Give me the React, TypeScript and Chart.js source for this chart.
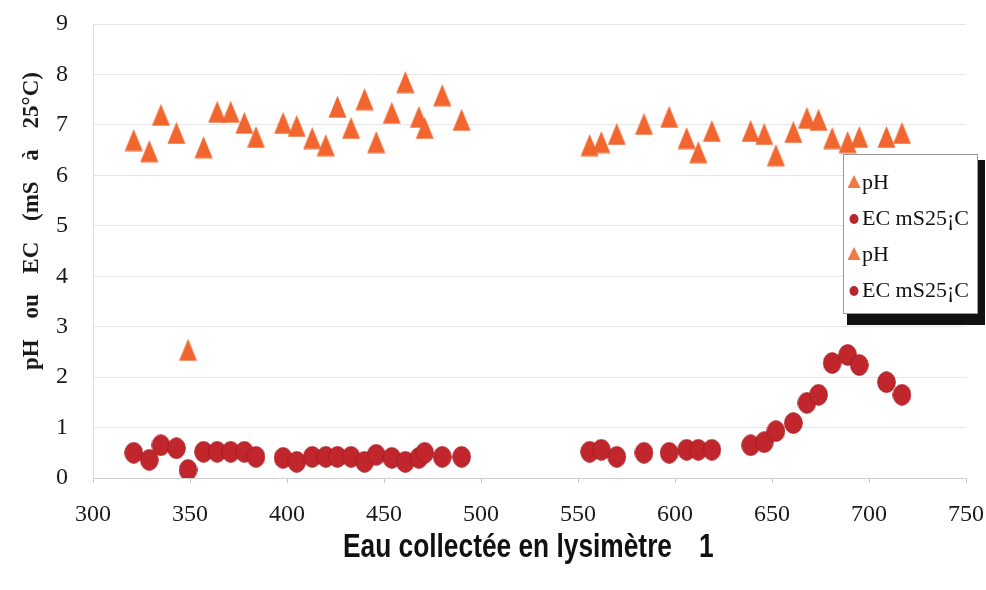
import React, { useEffect, useRef } from 'react';
import { Chart, registerables } from 'chart.js';

Chart.register(...registerables);

// ---- data ----
const xGroup1 = [321, 329, 335, 343, 349, 357, 364, 371, 378, 384, 398, 405, 413, 420, 426, 433, 440, 446, 454, 461, 468, 471, 480, 490];
const pH1 = [6.7, 6.48, 7.2, 6.84, 2.54, 6.56, 7.26, 7.26, 7.04, 6.76, 7.04, 6.98, 6.74, 6.6, 7.36, 6.94, 7.51, 6.66, 7.24, 7.85, 7.16, 6.94, 7.59, 7.1];
const ec1 = [0.5, 0.36, 0.65, 0.59, 0.16, 0.52, 0.52, 0.52, 0.52, 0.42, 0.4, 0.32, 0.42, 0.42, 0.42, 0.42, 0.32, 0.46, 0.4, 0.32, 0.4, 0.5, 0.42, 0.42];

const xGroup2 = [556, 562, 570, 584, 597, 606, 612, 619, 639, 646, 652, 661, 668, 674, 681, 689, 695, 709, 717];
const pH2 = [6.6, 6.66, 6.82, 7.02, 7.16, 6.74, 6.46, 6.88, 6.88, 6.82, 6.4, 6.86, 7.14, 7.1, 6.74, 6.66, 6.76, 6.76, 6.84];
const ec2 = [0.52, 0.56, 0.42, 0.5, 0.5, 0.56, 0.56, 0.56, 0.65, 0.71, 0.93, 1.09, 1.49, 1.65, 2.28, 2.44, 2.24, 1.9, 1.65];

const xMin = 300;
const xMax = 750;
const xStep = 50;
const yMin = 0;
const yMax = 9;
const yStep = 1;

const legendLabels = ['pH', 'EC mS25¡C', 'pH', 'EC mS25¡C'];
const legendKinds = ['tri', 'dot', 'tri', 'dot'];
const xTitleMain = 'Eau collectée en lysimètre';
const xTitleSuffix = '1';
const yTitleWords = ['pH', 'ou', 'EC', '(mS', 'à', '25°C)'];

// ---- styles ----
const ORANGE = '#f1652f';
const RED = '#c0262c';
const RED_EDGE = '#a71e23';
const SERIF = '"Liberation Serif", "Times New Roman", Times, serif';
const SANS = '"Liberation Sans", Arial, sans-serif';

function makeTriangle(w: number, h: number, color: string) {
  const c = document.createElement('canvas');
  c.width = w;
  c.height = h;
  const g = c.getContext('2d')!;
  g.fillStyle = color;
  g.beginPath();
  g.moveTo(w / 2, 0.5);
  g.lineTo(w - 0.5, h - 0.5);
  g.lineTo(0.5, h - 0.5);
  g.closePath();
  g.fill();
  return c;
}

function makeEllipse(w: number, h: number, fill: string, edge: string) {
  const c = document.createElement('canvas');
  c.width = w;
  c.height = h;
  const g = c.getContext('2d')!;
  g.fillStyle = fill;
  g.strokeStyle = edge;
  g.lineWidth = 1;
  g.beginPath();
  g.ellipse(w / 2, h / 2, w / 2 - 0.7, h / 2 - 0.7, 0, 0, Math.PI * 2);
  g.fill();
  g.stroke();
  return c;
}

const overlayPlugin = {
  id: 'overlay',
  afterDraw(chart: any) {
    const ctx: CanvasRenderingContext2D = chart.ctx;

    // Y title (rotated, word-spaced)
    ctx.save();
    ctx.fillStyle = '#1a1a1a';
    ctx.font = 'bold 23px ' + SERIF;
    const widths = yTitleWords.map((w) => ctx.measureText(w).width);
    const sum = widths.reduce((a, b) => a + b, 0);
    const total = 298;
    const gap = (total - sum) / (yTitleWords.length - 1);
    ctx.translate(38, 370);
    ctx.rotate(-Math.PI / 2);
    ctx.textAlign = 'left';
    ctx.textBaseline = 'alphabetic';
    let pos = 0;
    yTitleWords.forEach((w, i) => {
      ctx.fillText(w, pos, 0);
      pos += widths[i] + gap;
    });
    ctx.restore();

    // X title (condensed bold sans)
    ctx.save();
    ctx.fillStyle = '#111';
    ctx.font = 'bold 34px ' + SANS;
    ctx.textAlign = 'left';
    ctx.textBaseline = 'alphabetic';
    const mw = ctx.measureText(xTitleMain).width;
    const target = 329;
    const sx = target / mw;
    ctx.save();
    ctx.translate(343, 557);
    ctx.scale(sx, 1);
    ctx.fillText(xTitleMain, 0, 0);
    ctx.restore();
    ctx.save();
    ctx.translate(699, 557);
    ctx.scale(sx, 1);
    ctx.fillText(xTitleSuffix, 0, 0);
    ctx.restore();
    ctx.restore();

    // Legend box with shadow
    const bx = 843, by = 154, bw = 134, bh = 159;
    ctx.save();
    ctx.fillStyle = '#111';
    ctx.fillRect(bx + 4, by + 6, bw + 4, bh + 6);
    ctx.fillStyle = '#ffffff';
    ctx.fillRect(bx, by, bw, bh);
    ctx.strokeStyle = '#9a9a9a';
    ctx.lineWidth = 1;
    ctx.strokeRect(bx + 0.5, by + 0.5, bw, bh);
    ctx.font = '22px ' + SERIF;
    ctx.textAlign = 'left';
    ctx.textBaseline = 'middle';
    const rowStart = by + 28;
    const rowGap = 36;
    legendLabels.forEach((label, i) => {
      const yc = rowStart + i * rowGap;
      const mx = bx + 11;
      if (legendKinds[i] === 'tri') {
        ctx.fillStyle = '#f07a45';
        ctx.beginPath();
        ctx.moveTo(mx, yc - 7);
        ctx.lineTo(mx + 6.5, yc + 6);
        ctx.lineTo(mx - 6.5, yc + 6);
        ctx.closePath();
        ctx.fill();
      } else {
        ctx.fillStyle = '#b8262c';
        ctx.beginPath();
        ctx.ellipse(mx, yc + 1, 4.5, 5, 0, 0, Math.PI * 2);
        ctx.fill();
      }
      ctx.fillStyle = '#111';
      ctx.fillText(label, bx + 19, yc + 1);
    });
    ctx.restore();
  },
};

export default function App() {
  const canvasRef = useRef<HTMLCanvasElement | null>(null);

  useEffect(() => {
    if (!canvasRef.current) return;
    let chart: Chart | null = null;
    let cancelled = false;

    const build = () => {
      if (cancelled || !canvasRef.current) return;
      const tri = makeTriangle(19, 23, ORANGE);
      const dot = makeEllipse(19, 22, RED, RED_EDGE);
      const toPts = (xs: number[], ys: number[]) => xs.map((x, i) => ({ x, y: ys[i] }));

      chart = new Chart(canvasRef.current, {
        type: 'scatter',
        data: {
          datasets: [
            { label: legendLabels[0], data: toPts(xGroup1, pH1), pointStyle: tri as any, pointRadius: 10, backgroundColor: ORANGE, borderColor: ORANGE },
            { label: legendLabels[1], data: toPts(xGroup1, ec1), pointStyle: dot as any, pointRadius: 10, backgroundColor: RED, borderColor: RED },
            { label: legendLabels[2], data: toPts(xGroup2, pH2), pointStyle: tri as any, pointRadius: 10, backgroundColor: ORANGE, borderColor: ORANGE },
            { label: legendLabels[3], data: toPts(xGroup2, ec2), pointStyle: dot as any, pointRadius: 10, backgroundColor: RED, borderColor: RED },
          ],
        },
        options: {
          responsive: false,
          animation: false,
          devicePixelRatio: 1,
          layout: { padding: { top: 24, right: 20, left: 0, bottom: 0 } },
          plugins: {
            legend: { display: false },
            tooltip: { enabled: false },
          },
          scales: {
            x: {
              type: 'linear',
              min: xMin,
              max: xMax,
              ticks: {
                stepSize: xStep,
                color: '#1a1a1a',
                font: { family: SERIF, size: 24 },
                padding: 17,
                maxRotation: 0,
              },
              grid: {
                drawOnChartArea: false,
                drawTicks: true,
                tickLength: 5,
                color: '#c8c8c8',
              },
              border: { color: '#cfcfcf', width: 1 },
              afterFit: (scale: any) => {
                scale.height = 112;
                scale.paddingLeft = 0;
                scale.paddingRight = 0;
              },
            },
            y: {
              type: 'linear',
              min: yMin,
              max: yMax,
              ticks: {
                stepSize: yStep,
                color: '#1a1a1a',
                font: { family: SERIF, size: 24 },
                padding: 25,
              },
              grid: {
                drawTicks: false,
                color: '#e6e6e6',
                lineWidth: 1,
              },
              border: { color: '#dcdcdc', width: 1 },
              afterFit: (scale: any) => {
                scale.width = 93;
                scale.paddingTop = 0;
                scale.paddingBottom = 0;
              },
            },
          },
        },
        plugins: [overlayPlugin],
      });
    };

    const fontLoads = [
      '24px "Liberation Serif"',
      'bold 23px "Liberation Serif"',
      'bold 34px "Liberation Sans"',
    ].map((f) => (document.fonts ? document.fonts.load(f).catch(() => null) : Promise.resolve(null)));
    Promise.all(fontLoads).then(build, build);

    return () => {
      cancelled = true;
      if (chart) chart.destroy();
    };
  }, []);

  return (
    <div style={{ position: 'absolute', left: 0, top: 0, width: 986, height: 590, background: '#fff' }}>
      <canvas ref={canvasRef} width={986} height={590} style={{ display: 'block', width: 986, height: 590 }} />
    </div>
  );
}
